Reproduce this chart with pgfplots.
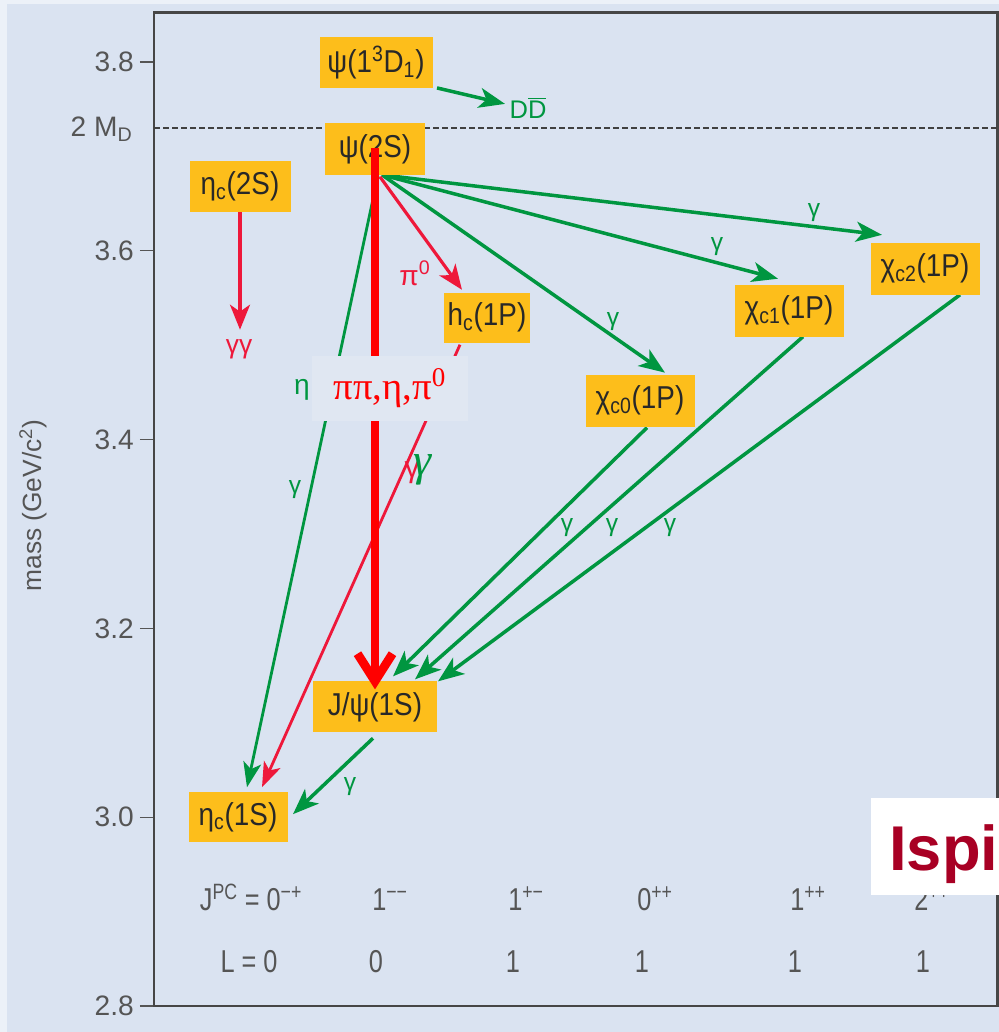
\documentclass[border=0pt]{standalone}
\usepackage{fontspec}
\setmainfont{Liberation Sans}
\newfontfamily\seriffont{Liberation Serif}
\usepackage{graphicx}
\usepackage{pgfplots}
\pgfplotsset{compat=1.18}
\usetikzlibrary{arrows.meta}
\definecolor{bg}{RGB}{218,227,241}
\definecolor{bgedge}{RGB}{236,241,248}
\definecolor{boxorange}{RGB}{253,190,27}
\definecolor{grn}{RGB}{0,150,64}
\definecolor{rd}{RGB}{238,24,58}
\definecolor{axisgray}{RGB}{70,70,70}
\definecolor{labelgray}{RGB}{85,85,85}
\definecolor{boxtext}{RGB}{40,40,40}
\definecolor{ispi}{RGB}{168,0,36}
\definecolor{pibox}{RGB}{224,231,242}
\newcommand{\cn}[1]{\scalebox{0.88}[1]{#1}}
\newcommand{\cb}[1]{\scalebox{0.8}[1]{#1}}
\tikzset{
  garr/.style={draw=grn, line width=2pt, -{Stealth[length=5.2mm,width=4mm,inset=1.4mm]}},
  garrt/.style={draw=grn, line width=1.6pt, -{Stealth[length=5mm,width=3.6mm,inset=1.3mm]}},
  rarr/.style={draw=rd, line width=1.8pt, -{Stealth[length=5mm,width=4mm,inset=1.4mm]}},
  rarrt/.style={draw=rd, line width=1.6pt, -{Stealth[length=5mm,width=3.6mm,inset=1.3mm]}},
  box/.style={fill=boxorange, inner sep=0pt, text=boxtext, font=\fontsize{18}{18}\selectfont},
  glab/.style={text=grn, inner sep=0pt, font=\fontsize{14}{14}\selectfont},
  blab/.style={text=labelgray, inner sep=0pt, anchor=base, font=\fontsize{18}{18}\selectfont},
}
\begin{document}
\begin{tikzpicture}
\useasboundingbox (0,0) rectangle (199.8mm,206.4mm);
\fill[bg] (0,0) rectangle (199.8mm,206.4mm);
\fill[bgedge] (0,0) rectangle (1.4mm,206.4mm);
\fill[bgedge] (0,205.6mm) rectangle (199.8mm,206.4mm);
\begin{axis}[
  at={(30.8mm,5.2mm)}, anchor=south west,
  width=168.6mm, height=198.6mm, scale only axis,
  xmin=154, xmax=997, ymin=2.8, ymax=3.8519,
  clip=false,
  axis line style={draw=axisgray, line width=1.7pt},
  xtick=\empty,
  ytick={2.8,3.0,3.2,3.4,3.6,3.8},
  yticklabels={2.8,3.0,3.2,3.4,3.6,3.8},
  ytick pos=left, tick align=outside,
  major tick length=2.8mm,
  tick style={draw=labelgray, line width=0.6pt},
  yticklabel style={font=\fontsize{16}{16}\selectfont, text=labelgray},
]
% psi(1D) -> D Dbar
\addplot[garr] coordinates {(437,3.7725) (505,3.7556)};
% 2 M_D threshold
\addplot[draw=black!75, line width=0.75pt, dash pattern=on 1.1mm off 0.7mm] coordinates {(154,3.7302) (997,3.7302)};
% eta_c(2S) -> gamma gamma
\addplot[rarr] coordinates {(240,3.6413) (240,3.5164)};
% psi(2S) radiative fan
\addplot[garr] coordinates {(382,3.6804) (882,3.6169)};
\addplot[garr] coordinates {(382,3.6804) (778,3.5704)};
\addplot[garr] coordinates {(382,3.6804) (665,3.4709)};
\addplot[rarr] coordinates {(380,3.6783) (462,3.5587)};
\addplot[garrt] coordinates {(378,3.6794) (247,3.0317)};
% h_c -> eta_c(1S)
\addplot[rarrt] coordinates {(460,3.5005) (262,3.0317)};
% chi_cJ -> J/psi
\addplot[garr] coordinates {(647,3.4127) (393,3.1492)};
\addplot[garr] coordinates {(803,3.5090) (415,3.1460)};
\addplot[garr] coordinates {(960,3.5534) (438,3.1439)};
% J/psi -> eta_c(1S)
\addplot[garr] coordinates {(373,3.0836) (293,3.0032)};

% state boxes
\node[box, minimum width=22.6mm, minimum height=10.2mm] at (axis cs:376,3.7995) {\cn{ψ(1\textsuperscript{3}D\textsubscript{1})}};
\node[box, minimum width=20mm, minimum height=10.4mm] at (axis cs:375,3.7079) {\cn{ψ(2S)}};
\node[box, minimum width=20.2mm, minimum height=10.2mm] at (axis cs:240,3.6683) {\cn{η\textsubscript{c}(2S)}};
\node[box, minimum width=17.2mm, minimum height=10mm] at (axis cs:487,3.5291) {\cn{h\textsubscript{c}(1P)}};
\node[box, minimum width=21.8mm, minimum height=10.4mm] at (axis cs:640,3.4413) {\cn{χ\textsubscript{c0}(1P)}};
\node[box, minimum width=21.8mm, minimum height=10.4mm] at (axis cs:789,3.5365) {\cn{χ\textsubscript{c1}(1P)}};
\node[box, minimum width=21.8mm, minimum height=10.4mm] at (axis cs:925,3.5810) {\cn{χ\textsubscript{c2}(1P)}};
\node[box, minimum width=24.8mm, minimum height=10.2mm] at (axis cs:375,3.1169) {\cn{J/ψ(1S)}};
\node[box, minimum width=19.8mm, minimum height=10mm] at (axis cs:238,3.0000) {\cn{η\textsubscript{c}(1S)}};

% hadronic transition psi(2S) -> J/psi
\addplot[draw=red, line width=5pt, -{Straight Barb[length=5.5mm,width=7mm]}] coordinates {(375,3.7090) (375,3.1354)};
\node[fill=pibox, minimum width=31.2mm, minimum height=13mm, inner sep=0pt, text=red, font=\seriffont\fontsize{22}{22}\selectfont] at (axis cs:390,3.4545) {ππ,η,π\textsuperscript{0}};

% transition labels
\node[text=grn, inner sep=0pt, font=\fontsize{14.5}{14.5}\selectfont] at (axis cs:528,3.7513) {D$\overline{\hbox{D}}$};
\node[glab] at (axis cs:814,3.6402) {γ};
\node[glab] at (axis cs:717,3.6042) {γ};
\node[glab] at (axis cs:613,3.5249) {γ};
\node[glab] at (axis cs:295,3.3471) {γ};
\node[glab] at (axis cs:567,3.3069) {γ};
\node[glab] at (axis cs:612,3.3069) {γ};
\node[glab] at (axis cs:670,3.3069) {γ};
\node[glab] at (axis cs:350,3.0328) {γ};
\node[glab, font=\fontsize{16}{16}\selectfont] at (axis cs:302,3.4529) {η};
\node[text=rd, inner sep=0pt, font=\fontsize{16}{16}\selectfont] at (axis cs:415,3.5767) {π\textsuperscript{0}};
\node[text=rd, inner sep=0pt, font=\fontsize{15}{15}\selectfont] at (axis cs:239,3.4952) {γγ};
\node[text=rd, inner sep=0pt, font=\fontsize{17}{17}\selectfont] at (axis cs:412,3.3651) {γ};
\node[text=grn, inner sep=0pt, font=\seriffont\itshape\fontsize{26}{26}\selectfont] at (axis cs:422,3.3683) {γ};

% quantum numbers
\node[blab] at (axis cs:251,2.9016) {\cb{J\textsuperscript{PC} = 0\textsuperscript{−+}}};
\node[blab] at (axis cs:390,2.9016) {\cb{1\textsuperscript{−−}}};
\node[blab] at (axis cs:526,2.9016) {\cb{1\textsuperscript{+−}}};
\node[blab] at (axis cs:655,2.9016) {\cb{0\textsuperscript{++}}};
\node[blab] at (axis cs:808,2.9016) {\cb{1\textsuperscript{++}}};
\node[blab] at (axis cs:932,2.9016) {\cb{2\textsuperscript{++}}};
\node[blab] at (axis cs:249,2.8360) {\cb{L = 0}};
\node[blab] at (axis cs:376,2.8360) {\cb{0}};
\node[blab] at (axis cs:513,2.8360) {\cb{1}};
\node[blab] at (axis cs:642,2.8360) {\cb{1}};
\node[blab] at (axis cs:795,2.8360) {\cb{1}};
\node[blab] at (axis cs:923,2.8360) {\cb{1}};

% axis descriptions
\node[anchor=base east, inner sep=0pt, text=labelgray, font=\fontsize{16}{16}\selectfont] at (axis cs:133,3.7206) {2 M\textsubscript{D}};
\node[rotate=90, inner sep=0pt, text=labelgray, font=\fontsize{15}{15}\selectfont] at (axis cs:33,3.3302) {mass (GeV/c\textsuperscript{2})};

% watermark box
\fill[white] (axis cs:871,3.0201) rectangle (axis cs:1030,2.9175);
\node[anchor=base west, inner sep=0pt, text=ispi, font=\bfseries\fontsize{36}{36}\selectfont] at (axis cs:889,2.9439) {Ispi};
\end{axis}
\end{tikzpicture}
\end{document}
